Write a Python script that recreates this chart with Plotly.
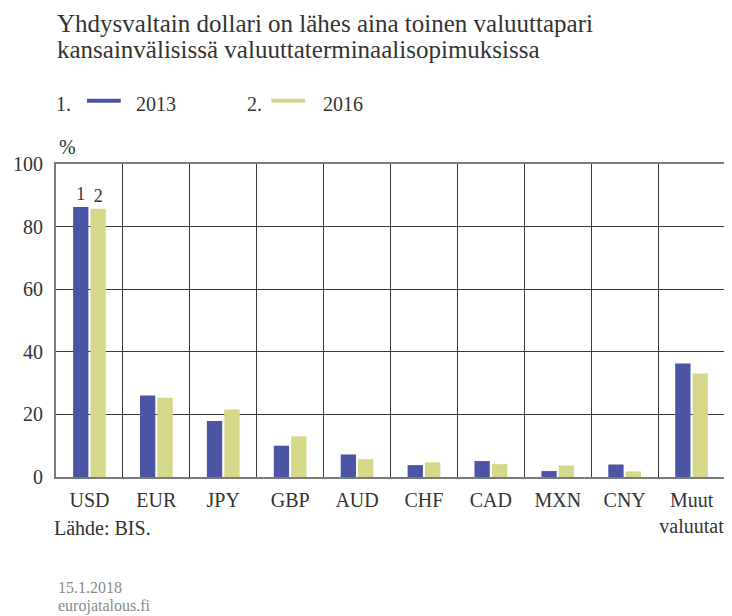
import plotly.graph_objects as go

categories = ["USD", "EUR", "JPY", "GBP", "AUD", "CHF", "CAD", "MXN", "CNY", "Muut<br>valuutat"]
values_2013 = [86.3, 26.0, 17.9, 10.0, 7.2, 3.8, 5.1, 1.9, 4.0, 36.3]
values_2016 = [85.7, 25.3, 21.6, 13.0, 5.7, 4.7, 4.1, 3.7, 1.8, 33.1]
series_names = ["2013", "2016"]
bar_labels_2013 = ["1"] + [""] * 9
bar_labels_2016 = ["2"] + [""] * 9
y_ticks = [0, 20, 40, 60, 80, 100]

BLUE = "#4B55A4"
YELLOW = "#D6D889"
FONT = "Liberation Serif"
TXT = "#333333"

# the page body has an 8px margin, so the figure is 8px smaller than the window
OFF = 8

fig = go.Figure()
fig.add_trace(go.Bar(x=categories, y=values_2013, name=series_names[0], marker_color=BLUE,
                     marker_line_width=0, text=bar_labels_2013, textposition="outside",
                     textfont=dict(size=18, color=TXT, family=FONT), cliponaxis=False))
fig.add_trace(go.Bar(x=categories, y=values_2016, name=series_names[1], marker_color=YELLOW,
                     marker_line_width=0, text=bar_labels_2016, textposition="outside",
                     textfont=dict(size=18, color=TXT, family=FONT), cliponaxis=False))

fig.update_layout(
    width=732 - OFF, height=616 - OFF,
    margin=dict(l=56 - OFF, r=5, t=164 - OFF, b=139),
    paper_bgcolor="white", plot_bgcolor="white",
    font=dict(family=FONT, size=20, color=TXT),
    barmode="group", bargap=0.48, bargroupgap=0.12,
    showlegend=False,
)
fig.update_xaxes(
    type="category", range=[-0.5, 9.5], tickson="boundaries", tickangle=0,
    showgrid=True, gridcolor="#3a3a3a", gridwidth=1,
    showline=True, linecolor="#7a7a7a", linewidth=2, mirror=True,
    ticks="", ticklabelstandoff=4, tickfont=dict(size=20, color=TXT, family=FONT),
)
fig.update_yaxes(
    range=[0, 100], tickvals=y_ticks, showgrid=True, gridcolor="#3a3a3a", gridwidth=1,
    showline=True, linecolor="#7a7a7a", linewidth=2, mirror=True,
    ticks="", ticklabelstandoff=7, tickfont=dict(size=20, color=TXT, family=FONT),
    zeroline=False,
)

def px_x(px):
    return (px - 56) / 671.0

def px_y(py):
    return (476.7 - py) / 312.7

def text_at(x, y, text, size=20, color=TXT):
    fig.add_annotation(xref="paper", yref="paper", x=px_x(x), y=px_y(y), xanchor="left", yanchor="middle",
                       align="left", showarrow=False, text=text,
                       font=dict(size=size, color=color, family=FONT))

# Title (two lines)
text_at(55, 23.5, "Yhdysvaltain dollari on lähes aina toinen valuuttapari", size=25)
text_at(55, 50, "kansainvälisissä valuuttaterminaalisopimuksissa", size=25)

# Custom legend
legend_items = [("1.", 54, 87, 134, BLUE, series_names[0]), ("2.", 246, 272, 322, YELLOW, series_names[1])]
for num, xn, xl, xt, col, name in legend_items:
    text_at(xn, 104, num)
    fig.add_shape(type="line", xref="paper", yref="paper", x0=px_x(xl), x1=px_x(xl + 34),
                  y0=px_y(100.7), y1=px_y(100.7), line=dict(color=col, width=4))
    text_at(xt, 104, name)

text_at(57, 147, "%")
text_at(52, 528, "Lähde: BIS.")
text_at(56, 587.5, "15.1.2018", size=16, color="#8a8a8a")
text_at(56, 606, "eurojatalous.fi", size=16, color="#8a8a8a")

fig.write_html("out.html")
